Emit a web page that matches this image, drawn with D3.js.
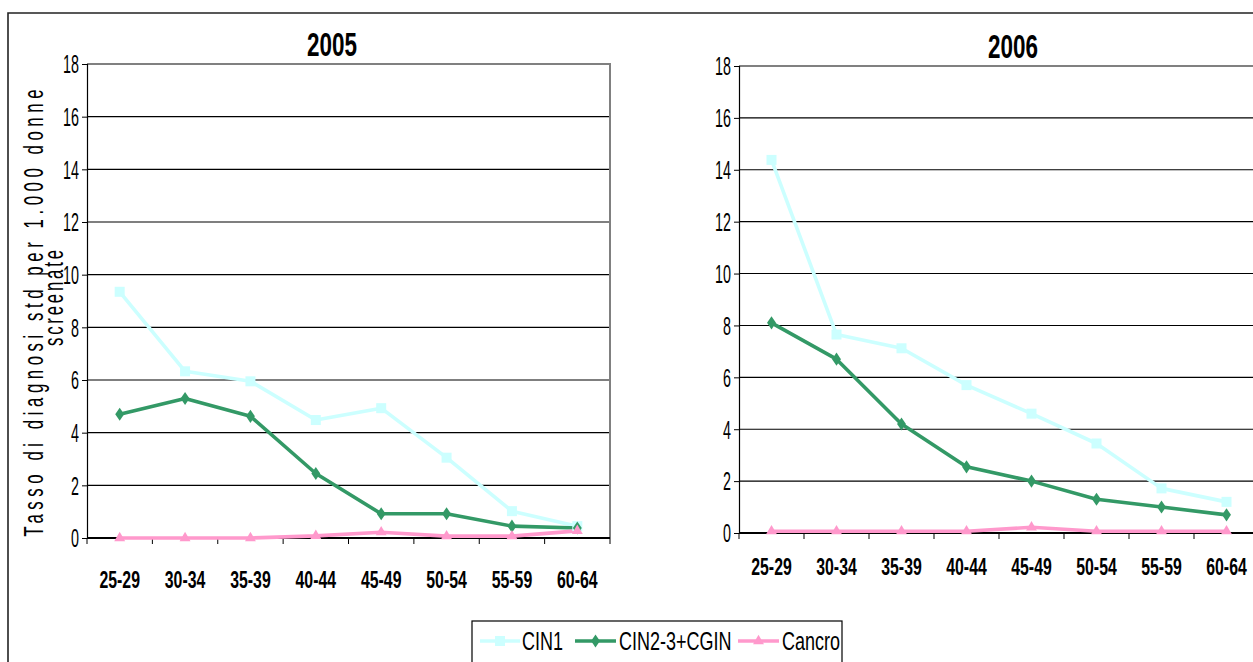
<!DOCTYPE html>
<html>
<head>
<meta charset="utf-8">
<script src="https://cdn.jsdelivr.net/npm/d3@7"></script>
<style>
  html, body { margin: 0; padding: 0; background: #fff; }
  svg { display: block; }
  text { font-family: "Liberation Sans", Arial, sans-serif; fill: #000; }
</style>
</head>
<body>
<svg id="chart" width="1253" height="662"></svg>
<script>
// Age groups on the x axis
const ageGroups = ["25-29", "30-34", "35-39", "40-44", "45-49", "50-54", "55-59", "60-64"];

// Standardised detection rate per 1,000 screened women, 2005
const cin1_2005   = [9.35, 6.33, 5.95, 4.48, 4.93, 3.05, 1.02, 0.45];
const cin23_2005  = [4.70, 5.30, 4.62, 2.45, 0.92, 0.92, 0.45, 0.38];
const cancro_2005 = [0.00, 0.00, 0.00, 0.08, 0.22, 0.07, 0.07, 0.27];

// Standardised detection rate per 1,000 screened women, 2006
const cin1_2006   = [14.38, 7.65, 7.12, 5.70, 4.60, 3.45, 1.72, 1.20];
const cin23_2006  = [8.10, 6.70, 4.20, 2.55, 2.00, 1.30, 1.00, 0.70];
const cancro_2006 = [0.07, 0.07, 0.07, 0.07, 0.22, 0.07, 0.07, 0.07];

// Axis ticks and labels
const yTicks = [0, 2, 4, 6, 8, 10, 12, 14, 16, 18];
const seriesNames = ["CIN1", "CIN2-3+CGIN", "Cancro"];
const seriesColors = ["#CCFFFF", "#339966", "#FF99CC"];
const yTitleLines = ["Tasso di diagnosi std per 1.000 donne", "screenate"];

const svg = d3.select("#chart");

// Text with horizontal compression (narrow face look)
function label(parent, x, y, str, opt) {
  const o = Object.assign({ size: 22, sx: 0.62, anchor: "middle", weight: "normal", baseline: null }, opt);
  const t = parent.append("text")
    .attr("transform", `translate(${x},${y}) scale(${o.sx},1)`)
    .attr("text-anchor", o.anchor)
    .attr("font-size", o.size)
    .attr("font-weight", o.weight)
    .text(str);
  if (o.baseline) t.attr("dy", o.baseline);
  return t;
}

function drawMarker(g, kind, x, y, color) {
  if (kind === 0) {
    g.append("rect").attr("x", x - 5).attr("y", y - 5).attr("width", 10).attr("height", 10).attr("fill", color);
  } else if (kind === 1) {
    g.append("path").attr("d", d3.symbol(d3.symbolDiamond2, 70)()).attr("transform", `translate(${x},${y}) scale(0.85,1.25)`).attr("fill", color);
  } else {
    g.append("path").attr("d", d3.symbol(d3.symbolTriangle2, 70)()).attr("transform", `translate(${x},${y}) scale(1.1,1.1)`).attr("fill", color);
  }
}

function panel(cfg) {
  const g = svg.append("g");
  const x = d3.scaleBand().domain(ageGroups).range([cfg.left, cfg.right]);
  const y = d3.scaleLinear().domain([0, 18]).range([cfg.bottom, cfg.top]);

  // horizontal gridlines
  g.selectAll("line.grid").data(yTicks.filter(v => v > 0 && v < 18)).join("line")
    .attr("x1", cfg.left).attr("x2", cfg.right)
    .attr("y1", d => y(d)).attr("y2", d => y(d))
    .attr("stroke", "#000").attr("stroke-width", 1.1);

  // plot area border (top and right)
  g.append("path")
    .attr("d", `M${cfg.left},${y(18)}H${cfg.right}V${cfg.bottom}`)
    .attr("fill", "none").attr("stroke", "#808080").attr("stroke-width", 2);

  // y axis
  const yAxis = d3.axisLeft(y).tickValues(yTicks).tickSize(5).tickFormat("");
  const ya = g.append("g").attr("transform", `translate(${cfg.left},0)`).call(yAxis);
  ya.select(".domain").attr("stroke", "#000").attr("stroke-width", 1.2);
  ya.selectAll(".tick line").attr("stroke", "#000");
  yTicks.forEach(v => label(g, cfg.left - 8, y(v), String(v), { size: 26, sx: 0.55, anchor: "end", baseline: "0.36em" }));

  // x axis: tick marks between categories
  const xa = g.append("g").attr("transform", `translate(0,${cfg.bottom})`);
  xa.append("line").attr("x1", cfg.left).attr("x2", cfg.right).attr("stroke", "#000").attr("stroke-width", 2.2);
  const bounds = ageGroups.map(d => x(d)).concat([cfg.right]);
  xa.selectAll("line.tk").data(bounds).join("line").attr("class", "tk")
    .attr("x1", d => d).attr("x2", d => d).attr("y1", 0).attr("y2", 6)
    .attr("stroke", "#000").attr("stroke-width", 1);
  ageGroups.forEach(a => label(g, x(a) + x.bandwidth() / 2, cfg.labelY, a, { size: 24, sx: 0.66, weight: "bold" }));

  // title
  label(g, cfg.titleX, cfg.titleY, cfg.title, { size: 34, sx: 0.66, weight: "bold" });

  // series lines and markers
  const line = d3.line().x((d, i) => x(ageGroups[i]) + x.bandwidth() / 2).y(d => y(d));
  cfg.series.forEach((vals, k) => {
    g.append("path").datum(vals).attr("d", line)
      .attr("fill", "none").attr("stroke", seriesColors[k]).attr("stroke-width", 3.6)
      .attr("stroke-linejoin", "round");
  });
  cfg.series.forEach((vals, k) => {
    vals.forEach((v, i) => drawMarker(g, k, x(ageGroups[i]) + x.bandwidth() / 2, y(v), seriesColors[k]));
  });
  return { x, y };
}

// outer frame
svg.append("path").attr("d", "M8,670V13H1260").attr("fill", "none").attr("stroke", "#222").attr("stroke-width", 1.6);

panel({ left: 87, right: 610, top: 64, bottom: 538, labelY: 588, title: "2005", titleX: 332, titleY: 56,
        series: [cin1_2005, cin23_2005, cancro_2005] });
panel({ left: 739, right: 1259, top: 66, bottom: 533, labelY: 575, title: "2006", titleX: 1013, titleY: 58,
        series: [cin1_2006, cin23_2006, cancro_2006] });

// y axis title, two centred lines spread to fixed lengths
const yt = svg.append("g");
[[43, 313, 447], [63, 298, 96]].forEach(([bx, cy, len], i) => {
  const sx = 0.6;
  yt.append("text")
    .attr("transform", `translate(${bx},${cy}) rotate(-90) scale(${sx},1)`)
    .attr("text-anchor", "middle")
    .attr("font-size", 28)
    .attr("textLength", len / sx)
    .attr("lengthAdjust", "spacing")
    .text(yTitleLines[i]);
});

// legend
const lg = svg.append("g");
lg.append("rect").attr("x", 472).attr("y", 621).attr("width", 370).attr("height", 60)
  .attr("fill", "#fff").attr("stroke", "#000").attr("stroke-width", 1.2);
const legendItems = [
  { x0: 480, x1: 520, tx: 522 },
  { x0: 575, x1: 616, tx: 619 },
  { x0: 738, x1: 779, tx: 782 }
];
legendItems.forEach((it, k) => {
  lg.append("line").attr("x1", it.x0).attr("x2", it.x1).attr("y1", 641).attr("y2", 641)
    .attr("stroke", seriesColors[k]).attr("stroke-width", 3.6);
  drawMarker(lg, k, (it.x0 + it.x1) / 2, 641, seriesColors[k]);
  label(lg, it.tx, 641, seriesNames[k], { size: 25, sx: 0.72, anchor: "start", baseline: "0.36em" });
});
</script>
</body>
</html>
